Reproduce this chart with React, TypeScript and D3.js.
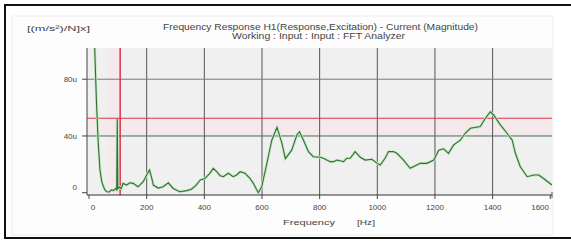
import * as d3 from 'd3';
import React from 'react';

// spectrum (Hz, u = micro units)
const freqHz = [
  0, 8, 16, 20, 26, 32, 38, 44, 48, 55, 62, 70, 78, 85, 92, 96, 98, 100, 106, 112,
  118, 130, 142, 153, 170, 188, 200, 210, 218, 223, 240, 257, 275, 292, 315, 339, 355, 370, 386,
  402, 419, 431, 443, 455, 466, 483, 500, 512, 524, 541, 559, 570, 587, 599, 617, 634, 652,
  669, 681, 703, 721, 730, 744, 761, 778, 802, 813, 825, 836, 848, 860, 871, 883, 894, 906,
  923, 941, 958, 981, 1000, 1010, 1027, 1039, 1056, 1068, 1091, 1114, 1137, 1149, 1172, 1196,
  1213, 1230, 1247, 1265, 1288, 1305, 1323, 1357, 1375, 1392, 1404, 1415, 1427, 1450, 1468,
  1479, 1496, 1520, 1543, 1560, 1577, 1606,
];
const magU = [
  320, 200, 120, 100, 63, 35, 16, 8, 5.4, 2, 0.7, 0.5, 2, 1.5, 3, 2, 52, 3, 4, 3,
  6.6, 5.4, 7, 6.6, 4.2, 7.8, 12.5, 16, 10, 5.4, 3.3, 4.2, 7, 3, 0.7, 1.5, 2.5, 5, 9,
  10, 13.7, 17.2, 14.8, 12, 11.3, 13.7, 11.3, 12.5, 14.8, 13.7, 10, 6.6, 0, 4.2, 20.7, 37, 46,
  35, 24, 30, 40.7, 43, 37, 29, 25.4, 25, 24.3, 23, 21.9, 21.9, 23, 22.6, 21.9, 24.3, 24.3,
  29, 25, 23, 23.6, 20.7, 19.5, 24.3, 29, 29, 27.8, 23, 17.2, 19.5, 20.7, 20.7, 23,
  30, 31, 27.8, 33.7, 37, 41.9, 45.4, 46.6, 52.5, 57, 54.8, 51.3, 47.8, 41.9, 37,
  27.8, 18.3, 11.3, 12.5, 12.5, 10, 5.4,
];

const xTicks = [0, 200, 400, 600, 800, 1000, 1200, 1400, 1600];
const xGrid = [200, 400, 600, 800, 1000, 1200, 1400];
const yTicks = [0, 40, 80];
const yTickLabels = ['0', '40u', '80u'];

const cursorHz = 108;
const cursorU = 52.5;

const title1 = 'Frequency Response H1(Response,Excitation) - Current (Magnitude)';
const title2 = 'Working : Input : Input : FFT Analyzer';
const unitLabel = '[(m/s²)/N]x]';

export default function App() {
  const left = 87;
  const right = 552;
  const top = 48;
  const bottom = 195;

  const x = d3.scaleLinear().domain([-7, 1606]).range([left, right]);
  const y = d3.scaleLinear().domain([-1.6, 102]).range([bottom, top]);

  const pts = freqHz.map((f, i) => [f, magU[i]] as [number, number]);
  const line = d3
    .line<[number, number]>()
    .x((d) => x(d[0]))
    .y((d) => y(d[1]));

  const font = "'Liberation Sans', Arial, sans-serif";

  return (
    <svg
      width={571}
      height={241}
      style={{ position: 'absolute', left: 0, top: 0 }}
      fontFamily={font}
    >
      <rect x={0} y={0} width={571} height={241} fill="#fff" />
      {/* outer frame, right side runs off the picture */}
      <rect x={5} y={5} width={600} height={233} fill="none" stroke="#111" strokeWidth={2} />
      <rect x={12} y={16} width={541} height={219} fill="#fdfdfd" stroke="#eee" strokeWidth={1} />

      <text x={27} y={31} fontSize={8} fill="#444" textLength={63} lengthAdjust="spacingAndGlyphs">
        {unitLabel}
      </text>
      <text x={163} y={30} fontSize={8.5} fill="#444" textLength={315} lengthAdjust="spacingAndGlyphs">
        {title1}
      </text>
      <text x={232} y={39} fontSize={8.5} fill="#444" textLength={173} lengthAdjust="spacingAndGlyphs">
        {title2}
      </text>

      <defs>
        <clipPath id="plot">
          <rect x={left} y={top} width={right - left} height={bottom - top} />
        </clipPath>
      </defs>

      <rect x={left} y={top} width={right - left} height={bottom - top} fill="#f0f0f0" />
      {/* faint cursor bands */}
      <rect x={left} y={y(cursorU)} width={right - left} height={y(40) - y(cursorU)} fill="#f8e4ea" opacity={0.6} />
      <rect x={x(cursorHz) - 12} y={top} width={12} height={bottom - top} fill="#f6e6ea" opacity={0.6} />

      {xGrid.map((t) => (
        <line key={t} x1={x(t)} x2={x(t)} y1={top} y2={bottom} stroke="#555" strokeWidth={1} />
      ))}
      <line x1={left} x2={right} y1={y(80)} y2={y(80)} stroke="#777" strokeWidth={1} />
      <line x1={left} x2={right} y1={y(40)} y2={y(40)} stroke="#3f6e60" strokeWidth={1} />

      <line x1={left} x2={right} y1={y(cursorU)} y2={y(cursorU)} stroke="#e0304a" strokeWidth={1} />
      <line x1={x(cursorHz)} x2={x(cursorHz)} y1={top} y2={bottom} stroke="#e0304a" strokeWidth={1.5} />

      <g clipPath="url(#plot)">
        <path d={line(pts) || ''} fill="none" stroke="#c6e8c6" strokeWidth={2.8} />
        <path d={line(pts) || ''} fill="none" stroke="#336f33" strokeWidth={1.1} />
      </g>

      {/* axes */}
      <line x1={left} x2={left} y1={top} y2={bottom} stroke="#444" strokeWidth={1} />
      <line x1={left} x2={right} y1={bottom} y2={bottom} stroke="#333" strokeWidth={1.2} />
      <line x1={right} x2={right} y1={bottom - 3} y2={bottom + 3} stroke="#555" strokeWidth={1} />

      {yTicks.map((t, i) => (
        <g key={t}>
          <line x1={left - 5} x2={left} y1={y(t)} y2={y(t)} stroke="#444" />
          <text
            x={77}
            y={Math.min(y(t), bottom - 8) + 3}
            fontSize={8}
            fill="#444"
            textAnchor="end"
          >
            {yTickLabels[i]}
          </text>
        </g>
      ))}

      {xTicks.map((t) => {
        const px = x(t);
        const anchor = t === 1600 ? 'end' : 'middle';
        const lx = t === 1600 ? right - 3 : Math.max(px, left + 6);
        return (
          <g key={t}>
            {px <= right && <line x1={px} x2={px} y1={bottom} y2={bottom + 4} stroke="#444" />}
            <text x={lx} y={210} fontSize={8} fill="#444" textAnchor={anchor}>
              {t}
            </text>
          </g>
        );
      })}

      <text x={283} y={225} fontSize={8} fill="#444" textLength={52} lengthAdjust="spacingAndGlyphs">
        Frequency
      </text>
      <text x={357} y={225} fontSize={8} fill="#444" textLength={18} lengthAdjust="spacingAndGlyphs">
        [Hz]
      </text>
    </svg>
  );
}
